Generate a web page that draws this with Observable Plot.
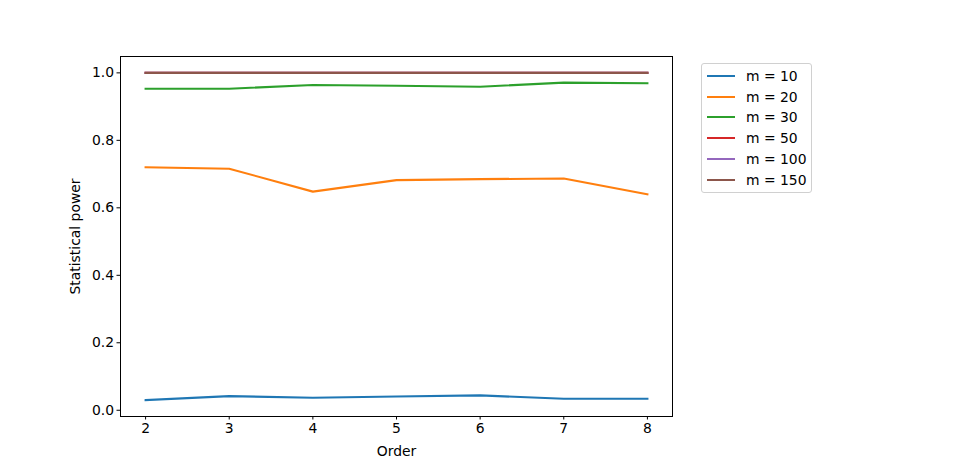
<!DOCTYPE html>
<html>
<head>
<meta charset="utf-8">
<script src="https://cdn.jsdelivr.net/npm/d3@7"></script>
<script src="https://cdn.jsdelivr.net/npm/@observablehq/plot@0.6"></script>
<style>
  html, body { margin: 0; padding: 0; background: #fff; }
  #wrap { position: relative; width: 960px; height: 467px; font-family: "DejaVu Sans", sans-serif; }
  #legend { position: absolute; left: 701px; top: 63px; width: 109px; height: 128px;
    border: 1px solid #d0d0d0; border-radius: 3px; background: rgba(255,255,255,0.8); box-sizing: content-box; }
  .row { position: absolute; left: 0; height: 20px; display: flex; align-items: center; font-size: 13.9px; color: #000; }
  .sw { width: 28px; height: 2px; margin-left: 5px; margin-right: 11px; }
</style>
</head>
<body>
<div id="wrap"><div id="legend"></div></div>
<script>
const orders = [2, 3, 4, 5, 6, 7, 8];
const mLabels = ["m = 10", "m = 20", "m = 30", "m = 50", "m = 100", "m = 150"];
const colors = ["#1f77b4", "#ff7f0e", "#2ca02c", "#d62728", "#9467bd", "#8c564b"];
const power_m10  = [0.030, 0.042, 0.037, 0.041, 0.044, 0.034, 0.034];
const power_m20  = [0.720, 0.716, 0.648, 0.682, 0.685, 0.687, 0.640];
const power_m30  = [0.953, 0.953, 0.964, 0.962, 0.959, 0.971, 0.969];
const power_m50  = [1.0, 1.0, 1.0, 1.0, 1.0, 1.0, 1.0];
const power_m100 = [1.0, 1.0, 1.0, 1.0, 1.0, 1.0, 1.0];
const power_m150 = [1.0, 1.0, 1.0, 1.0, 1.0, 1.0, 1.0];
const yTicks = [0.0, 0.2, 0.4, 0.6, 0.8, 1.0];

const seriesValues = [power_m10, power_m20, power_m30, power_m50, power_m100, power_m150];
const table = [];
seriesValues.forEach((vals, i) => {
  vals.forEach((v, j) => table.push({order: orders[j], power: v, m: mLabels[i]}));
});

const font = "DejaVu Sans, sans-serif";
const chart = Plot.plot({
  width: 960,
  height: 467,
  marginLeft: 120,
  marginRight: 288,
  marginTop: 56,
  marginBottom: 51,
  style: {fontFamily: font, fontSize: "13.9px", color: "#000", background: "transparent"},
  x: {domain: [1.7, 8.3], ticks: orders},
  y: {domain: [-0.0185, 1.0485], ticks: yTicks},
  color: {domain: mLabels, range: colors},
  marks: [
    Plot.axisX({ticks: orders, tickSize: 3.5, tickPadding: 3, tickFormat: d3.format("d"), label: null, fontSize: 13.9}),
    Plot.axisY({ticks: yTicks, tickSize: 3.5, tickPadding: 3, tickFormat: d3.format(".1f"), label: null, fontSize: 13.9}),
    Plot.line(table, {x: "order", y: "power", z: "m", stroke: "m", strokeWidth: 2.08, strokeLinecap: "square"}),
    Plot.frame({stroke: "#000", strokeWidth: 1}),
    Plot.text(["Order"], {frameAnchor: "bottom", dy: 35, text: d => d, fontSize: 13.9, lineAnchor: "middle"}),
    Plot.text(["Statistical power"], {frameAnchor: "left", dx: -45, rotate: -90, text: d => d, fontSize: 13.9, lineAnchor: "middle", textAnchor: "middle"})
  ]
});
document.getElementById("wrap").prepend(chart);

const legend = document.getElementById("legend");
mLabels.forEach((lab, i) => {
  const row = document.createElement("div");
  row.className = "row";
  row.style.top = (2 + i * 20.7) + "px";
  const sw = document.createElement("div");
  sw.className = "sw";
  sw.style.background = colors[i];
  const t = document.createElement("span");
  t.textContent = lab;
  row.appendChild(sw);
  row.appendChild(t);
  legend.appendChild(row);
});
</script>
</body>
</html>
